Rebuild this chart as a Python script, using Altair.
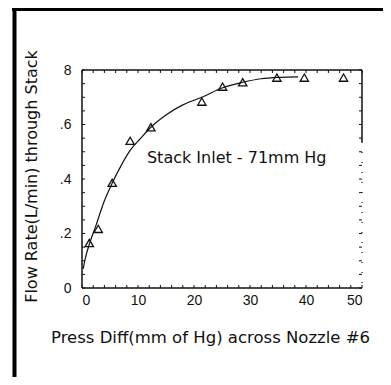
import altair as alt
import pandas as pd

# measured points (open triangles)
press_diff = [1.3, 2.9, 5.4, 8.6, 12.3, 21.4, 25.1, 28.7, 34.8, 39.7, 46.7]
flow_rate = [0.165, 0.217, 0.386, 0.54, 0.59, 0.684, 0.739, 0.755, 0.772, 0.772, 0.772]

# hand-drawn fitted curve
curve_x = [0.2, 0.6, 1.3, 2.5, 4.0, 5.4, 7.0, 8.6, 10.5, 12.3, 15.0, 18.0, 21.4, 25.1, 28.7, 32.0, 35.0, 38.6]
curve_y = [0.07, 0.11, 0.16, 0.23, 0.32, 0.385, 0.45, 0.505, 0.55, 0.59, 0.635, 0.672, 0.70, 0.735, 0.755, 0.768, 0.773, 0.775]

x_labels = [0, 10, 20, 30, 40, 50]
y_values = [0, 0.2, 0.4, 0.6, 0.8]
y_labels = ["0", ".2", ".4", ".6", "8"]
x_minor = [i * 2 for i in range(26)]
y_minor = [i * 0.05 for i in range(17)]

annotation = "Stack Inlet  -  71mm Hg"
ann_x, ann_y = 11.6, 0.477

W, H = 280, 218
INK = "#111111"
FONT = "DejaVu Sans"

xs = alt.Scale(domain=[0, 50], nice=False, zero=False)
ys = alt.Scale(domain=[0, 0.8], nice=False, zero=False)

label_expr = "[" + ",".join("'%s'" % s for s in y_labels) + "][round(datum.value*5)]"

x_axis = alt.Axis(values=x_labels, tickSize=0, domain=False, grid=False,
                  labelPadding=5, labelFontSize=14, labelFont="Liberation Sans",
                  labelColor=INK, title="Press Diff(mm of Hg) across Nozzle #6",
                  titleFont=FONT, titleFontSize=16.5, titleFontWeight="normal",
                  titleColor=INK, titleX=128, titleY=54, titleBaseline="alphabetic")
y_axis = alt.Axis(values=y_values, labelExpr=label_expr, tickSize=0, domain=False,
                  grid=False, labelPadding=11, labelFontSize=14, labelFont="Liberation Sans",
                  labelColor=INK, title="Flow Rate(L/min) through Stack",
                  titleFont=FONT, titleFontSize=16, titleFontWeight="normal",
                  titleColor=INK, titleAngle=270, titleX=-46, titleY=106,
                  titleBaseline="alphabetic", titleAlign="center")

curve_df = pd.DataFrame({"x": curve_x, "y": curve_y})
pts_df = pd.DataFrame({"x": press_diff, "y": flow_rate})
one = pd.DataFrame({"a": [0]})
xt_df = pd.DataFrame({"x": x_minor})
yt_df = pd.DataFrame({"y": y_minor})

curve = alt.Chart(curve_df).mark_line(color=INK, strokeWidth=1.2, interpolate="monotone").encode(
    x=alt.X("x:Q", scale=xs, axis=x_axis),
    y=alt.Y("y:Q", scale=ys, axis=y_axis),
)
points = alt.Chart(pts_df).mark_point(shape="triangle-up", filled=False, color=INK,
                                      strokeWidth=1.3, size=70, opacity=1).encode(
    x=alt.X("x:Q", scale=xs), y=alt.Y("y:Q", scale=ys))
text = alt.Chart(pd.DataFrame({"x": [ann_x], "y": [ann_y], "t": [annotation]})).mark_text(
    align="left", baseline="middle", font=FONT, fontSize=16, color=INK).encode(
    x=alt.X("x:Q", scale=xs), y=alt.Y("y:Q", scale=ys), text="t:N")

# inward ticks
bt = alt.Chart(xt_df).mark_rule(color=INK, strokeWidth=1).encode(
    x=alt.X("x:Q", scale=xs), y=alt.value(H), y2=alt.value(H - 3))
tt = alt.Chart(xt_df).mark_rule(color=INK, strokeWidth=1).encode(
    x=alt.X("x:Q", scale=xs), y=alt.value(0), y2=alt.value(3))
lt = alt.Chart(yt_df).mark_rule(color=INK, strokeWidth=1).encode(
    y=alt.Y("y:Q", scale=ys), x=alt.value(0), x2=alt.value(3))
rt = alt.Chart(yt_df).mark_rule(color=INK, strokeWidth=1).encode(
    y=alt.Y("y:Q", scale=ys), x=alt.value(W), x2=alt.value(W - 3))

# plot border
b_top = alt.Chart(one).mark_rule(color=INK, strokeWidth=1.5).encode(
    x=alt.value(0), x2=alt.value(W), y=alt.value(0))
b_bot = alt.Chart(one).mark_rule(color=INK, strokeWidth=1.5).encode(
    x=alt.value(0), x2=alt.value(W), y=alt.value(H))
b_left = alt.Chart(one).mark_rule(color=INK, strokeWidth=1.5).encode(
    x=alt.value(0), y=alt.value(0), y2=alt.value(H))
b_right = alt.Chart(one).mark_rule(color=INK, strokeWidth=1.5).encode(
    x=alt.value(W), y=alt.value(0), y2=alt.value(72))
b_right_dot = alt.Chart(one).mark_rule(color=INK, strokeWidth=1.2, strokeDash=[1, 9]).encode(
    x=alt.value(W), y=alt.value(72), y2=alt.value(H))

# outer figure frame (scan border)
f_top = alt.Chart(one).mark_rule(color="black", strokeWidth=3).encode(
    x=alt.value(-70), x2=alt.value(301), y=alt.value(-60.5))
f_left = alt.Chart(one).mark_rule(color="black", strokeWidth=4).encode(
    x=alt.value(-67.5), y=alt.value(-62), y2=alt.value(307))

chart = alt.layer(curve, points, text, bt, tt, lt, rt,
                  b_top, b_bot, b_left, b_right, b_right_dot, f_top, f_left).properties(
    width=W, height=H,
    autosize=alt.AutoSizeParams(type="none"),
    padding={"left": 74, "top": 62, "right": 21, "bottom": 89},
    background="white",
).configure_view(stroke=None)

chart.save("out.html", embed_options={"renderer": "svg", "actions": False})
